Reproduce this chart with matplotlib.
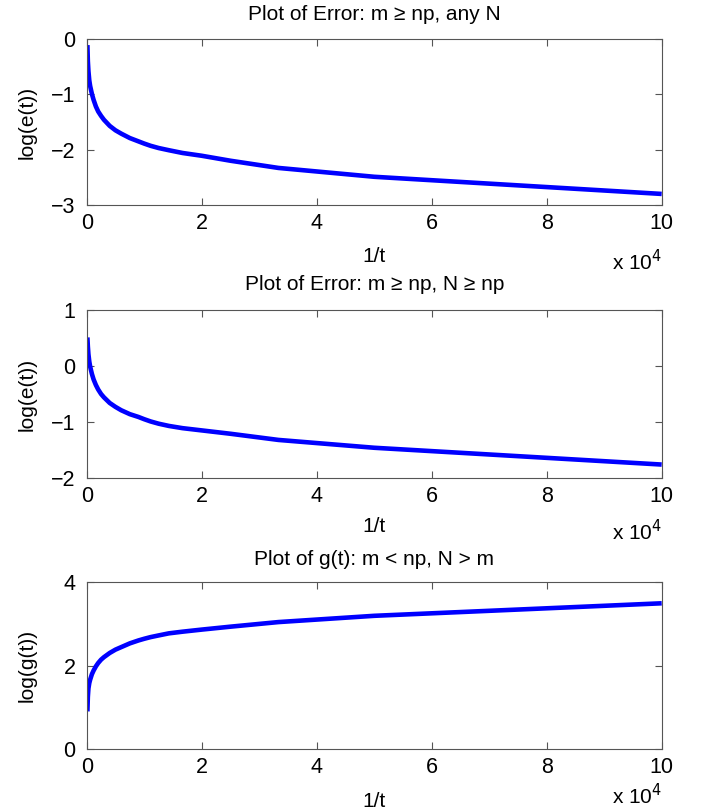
import numpy as np
import matplotlib
matplotlib.use('Agg')
import matplotlib.pyplot as plt
import matplotlib.ticker as mtick

plt.rcParams['font.family'] = ['Liberation Sans', 'DejaVu Sans']

# x = 1/t
inv_t = [120, 200, 300, 450, 600, 900, 1200, 1600, 2000, 2500, 3000, 4000, 5000, 6000,
         7500, 9000, 10000, 11111, 12500, 14286, 16667, 20000, 25000, 33333, 50000, 100000]

# panel 1: log(e(t)), m >= np, any N
log_e_any = [-0.11, -0.40, -0.58, -0.75, -0.85, -0.99, -1.10, -1.22, -1.31, -1.39, -1.46,
             -1.57, -1.65, -1.71, -1.79, -1.85, -1.89,
             -1.93, -1.97, -2.01, -2.06, -2.11, -2.20, -2.33, -2.49, -2.80]
# panel 2: log(e(t)), m >= np, N >= np
log_e_big = [0.51, 0.35, 0.21, 0.08, -0.01, -0.14, -0.24, -0.34, -0.42, -0.50, -0.56,
             -0.66, -0.73, -0.79, -0.86, -0.91, -0.95,
             -0.99, -1.03, -1.07, -1.11, -1.15, -1.21, -1.32, -1.46, -1.76]
# panel 3: log(g(t)), m < np, N > m
log_g = [0.90, 1.25, 1.45, 1.58, 1.66, 1.79, 1.88, 1.98, 2.06, 2.14, 2.20,
         2.30, 2.38, 2.44, 2.53, 2.60, 2.64,
         2.68, 2.72, 2.77, 2.81, 2.86, 2.93, 3.04, 3.19, 3.49]

titles = ['Plot of Error: m \u2265 np, any N',
          'Plot of Error: m \u2265 np, N \u2265 np',
          'Plot of g(t): m < np, N > m']
ylabels = ['log(e(t))', 'log(e(t))', 'log(g(t))']
series = [log_e_any, log_e_big, log_g]
ylims = [(-3, 0), (-2, 1), (0, 4)]
yticks = [[-3, -2, -1, 0], [-2, -1, 0, 1], [0, 2, 4]]
xticks = [0, 20000, 40000, 60000, 80000, 100000]

W, H = 701, 810
fig = plt.figure(figsize=(W / 100, H / 100), dpi=100)

# axes boxes in pixels: (top, bottom), plus text baselines
boxes = [(39, 205), (310, 478), (582, 749)]
title_y = [20, 290, 565]
xlab_y = [262, 532, 807]
mult_y = [270, 540, 804]
left, right = 86.7, 661.7
xc = (left + right) / 2

for i in range(3):
    top, bot = boxes[i]
    ax = fig.add_axes([left / W, 1 - bot / H, (right - left) / W, (bot - top) / H])
    ax.plot(inv_t, series[i], color='#0000ff', linewidth=3.3, solid_capstyle='butt')
    ax.set_xlim(0, 100000)
    ax.set_ylim(*ylims[i])
    ax.set_xticks(xticks)
    ax.set_yticks(yticks[i])
    ax.xaxis.set_major_formatter(mtick.FuncFormatter(lambda v, p: '%g' % (v / 1e4)))
    ax.tick_params(direction='in', top=True, right=True, length=5, width=0.8,
                   color='#555555', labelsize=15.5)
    ax.tick_params(axis='x', pad=6)
    ax.tick_params(axis='y', pad=8)
    for s in ax.spines.values():
        s.set_color('#555555')
        s.set_linewidth(0.8)
    fig.text(xc / W, 1 - title_y[i] / H, titles[i], fontsize=15, ha='center', va='baseline')
    fig.text(27 / W, 1 - (top + bot) / 2 / H, ylabels[i], fontsize=15, rotation=90,
             ha='center', va='center')
    fig.text(xc / W, 1 - xlab_y[i] / H, '1/t', fontsize=15, ha='center', va='baseline')
    fig.text(662 / W, 1 - mult_y[i] / H, 'x 10$^4$', fontsize=15, ha='right', va='baseline')

plt.savefig('out.png', dpi=100)
